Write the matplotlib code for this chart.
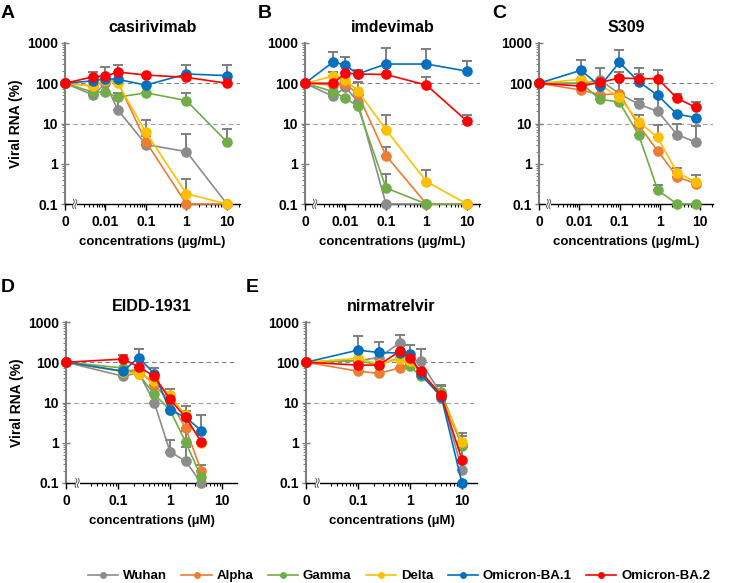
import numpy as np
import matplotlib.pyplot as plt
from matplotlib.ticker import FixedLocator, NullFormatter, LogLocator
from matplotlib.patches import Rectangle

plt.rcParams['font.family'] = ['Liberation Sans', 'DejaVu Sans']
plt.rcParams['font.weight'] = 'bold'
plt.rcParams['axes.titleweight'] = 'bold'
plt.rcParams['axes.labelweight'] = 'bold'

variants = ['Wuhan', 'Alpha', 'Gamma', 'Delta', 'Omicron-BA.1', 'Omicron-BA.2']
colors = ['#8c8c8c', '#ED7D31', '#70AD47', '#FFC000', '#0070C0', '#FF0000']

# ---- A: casirivimab (ug/mL)
conc_A = [0, 0.005, 0.01, 0.02, 0.1, 1, 10]
rna_A = [
    [100, 51, 100, 22, 3.0, 2.0, 0.1],
    [100, 85, 115, 110, 3.5, 0.1, 0.1],
    [100, 60, 60, 45, 58, 37, 3.5],
    [100, 85, 120, 100, 6.0, 0.18, 0.1],
    [100, 115, 130, 125, 90, 170, 155],
    [100, 145, 150, 190, 160, 140, 100],
]
top_A = [
    [None, None, None, 40, None, 5.5, None],
    [None, None, None, None, 5.0, None, None],
    [None, None, None, 57, None, 57, 7.5],
    [None, None, None, None, 12, 0.42, None],
    [None, None, 250, 280, None, 280, 290],
    [None, 185, None, None, None, None, None],
]

# ---- B: imdevimab (ug/mL)
conc_B = [0, 0.005, 0.01, 0.02, 0.1, 1, 10]
rna_B = [
    [100, 47, 80, 35, 0.1, 0.1, 0.1],
    [100, 90, 95, 55, 1.6, 0.1, 0.1],
    [100, 62, 42, 27, 0.25, 0.1, 0.1],
    [100, 150, 120, 65, 7.0, 0.36, 0.1],
    [100, 340, 280, 170, 300, 300, 200],
    [100, 100, 180, 170, 165, 90, 11.5],
]
top_B = [
    [None, None, 110, 105, None, None, None],
    [None, None, None, None, 2.6, None, None],
    [None, None, None, None, 0.55, None, None],
    [None, 185, None, None, 16, 0.7, None],
    [None, 600, 460, 210, 750, 720, 350],
    [None, None, None, None, None, 145, 16],
]

# ---- C: S309 (ug/mL)
conc_C = [0, 0.011, 0.033, 0.099, 0.3, 0.89, 2.7, 8]
rna_C = [
    [100, 100, 120, 55, 30, 20, 5.3, 3.4],
    [100, 68, 52, 55, 9.0, 2.1, 0.47, 0.32],
    [100, 100, 40, 34, 5.2, 0.22, 0.1, 0.1],
    [100, 125, 90, 45, 11, 4.5, 0.6, 0.35],
    [100, 210, 85, 330, 110, 50, 17, 14],
    [100, 85, 105, 135, 130, 130, 42, 25],
]
top_C = [
    [None, None, 240, 150, 40, 45, 10, 8.5],
    [None, None, None, None, None, None, None, None],
    [None, None, None, None, None, 0.3, None, None],
    [None, None, None, None, 16, 9.0, 0.8, 0.52],
    [None, 370, None, 680, 240, 210, None, None],
    [None, None, None, 190, 170, None, 55, 35],
]

# ---- D: EIDD-1931 (uM)
conc_D = [0, 0.125, 0.25, 0.5, 1, 2, 4]
rna_D = [
    [100, 45, 55, 10, 0.6, 0.35, 0.1],
    [100, 60, 65, 27, 11, 2.3, 0.2],
    [100, 72, 50, 16, 6.5, 1.05, 0.14],
    [100, 58, 52, 35, 15, 4.8, 1.0],
    [100, 60, 130, 52, 6.5, 4.3, 2.0],
    [100, 120, 77, 45, 12, 4.3, 1.05],
]
top_D = [
    [None, None, None, None, 1.15, 0.8, None],
    [None, None, None, None, None, 6.0, 0.28],
    [None, None, None, None, None, 2.0, None],
    [None, None, None, None, None, None, None],
    [None, None, 210, 70, None, None, 5.0],
    [None, 150, None, None, 22, 8.0, None],
]

# ---- E: nirmatrelvir (uM)
conc_E = [0, 0.1, 0.25, 0.63, 1, 1.6, 4, 10]
rna_E = [
    [100, 110, 130, 300, 120, 105, 16, 0.21],
    [100, 60, 53, 72, 95, 60, 13, 0.9],
    [100, 110, 85, 130, 80, 45, 18, 0.85],
    [100, 125, 90, 120, 105, 55, 14, 1.05],
    [100, 200, 175, 170, 160, 50, 14, 0.1],
    [100, 85, 85, 185, 125, 60, 15, 0.38],
]
top_E = [
    [None, None, 320, 480, 270, 210, 28, 1.7],
    [None, None, None, None, None, None, 26, None],
    [None, None, None, None, None, None, None, None],
    [None, None, None, None, None, None, None, 1.5],
    [None, 450, None, None, None, None, None, None],
    [None, None, None, None, None, None, None, None],
]

panels = [
    ('A', 'casirivimab', conc_A, rna_A, top_A, 0.001, 21, 'concentrations (\u00b5g/mL)'),
    ('B', 'imdevimab', conc_B, rna_B, top_B, 0.001, 21, 'concentrations (\u00b5g/mL)'),
    ('C', 'S309', conc_C, rna_C, top_C, 0.001, 21, 'concentrations (\u00b5g/mL)'),
    ('D', 'EIDD-1931', conc_D, rna_D, top_D, 0.01, 19.5, 'concentrations (\u00b5M)'),
    ('E', 'nirmatrelvir', conc_E, rna_E, top_E, 0.01, 19.5, 'concentrations (\u00b5M)'),
]

W, H = 738, 583
boxes = [(65, 43, 240, 204), (305, 43, 480, 204), (539, 43, 713, 204),
         (66, 322, 237, 483), (306, 322, 477, 483)]
letter_pos = [(1, 14), (258, 14), (492, 14), (1, 287), (246, 287)]

fig = plt.figure(figsize=(W / 100, H / 100), dpi=100)

for i, (letter, title, conc, rna, tops, x0, xmax, xlab) in enumerate(panels):
    l, t, r, b = boxes[i]
    ax = fig.add_axes([l / W, 1 - b / H, (r - l) / W, (b - t) / H])
    x = np.array([x0 if c == 0 else c for c in conc], dtype=float)

    for k in range(6):
        y = np.array(rna[k], dtype=float)
        up = np.array([0 if v is None else v - y[j] for j, v in enumerate(tops[k])])
        ax.errorbar(x, y, yerr=[np.zeros_like(up), up], fmt='none', ecolor='#7f7f7f',
                    elinewidth=1.4, capsize=3.5, capthick=1.4, zorder=2, clip_on=False)
    for k in range(6):
        ax.plot(x, rna[k], '-o', color=colors[k], lw=1.2, ms=6.6, zorder=3 + k,
                clip_on=False, label=variants[k])

    ax.axhline(100, color='#808080', ls=(0, (4, 3)), lw=0.8, zorder=1)
    ax.axhline(10, color='#a0a0a0', ls=(0, (4, 3)), lw=0.8, zorder=1)

    ax.set_xscale('log')
    ax.set_yscale('log')
    ax.set_xlim(x0, xmax)
    ax.set_ylim(0.1, 1000)

    if x0 == 0.001:
        xt = [0.001, 0.01, 0.1, 1, 10]
        xl = ['0', '0.01', '0.1', '1', '10']
    else:
        xt = [0.01, 0.1, 1, 10]
        xl = ['0', '0.1', '1', '10']
    ax.xaxis.set_major_locator(FixedLocator(xt))
    ax.set_xticklabels(xl)
    minors = [m * 10.0 ** e for e in range(-3, 2) for m in range(2, 10)]
    minors = [v for v in minors if x0 * 2.5 < v < xmax]
    ax.xaxis.set_minor_locator(FixedLocator(minors))
    ax.xaxis.set_minor_formatter(NullFormatter())

    ax.yaxis.set_major_locator(FixedLocator([0.1, 1, 10, 100, 1000]))
    ax.set_yticklabels(['0.1', '1', '10', '100', '1000'])
    ax.yaxis.set_minor_locator(LogLocator(base=10, subs=np.arange(2, 10)))
    ax.yaxis.set_minor_formatter(NullFormatter())

    ax.tick_params(axis='x', which='major', direction='out', length=4, width=1,
                   labelsize=10, pad=4)
    ax.tick_params(axis='x', which='minor', direction='out', length=2.5, width=0.8)
    ax.tick_params(axis='y', which='major', direction='inout', length=6, width=1,
                   color='#7f7f7f', labelsize=10, pad=2)
    ax.tick_params(axis='y', which='minor', direction='out', length=2, width=0.7,
                   color='#7f7f7f')

    for s in ['top', 'right']:
        ax.spines[s].set_visible(False)
    ax.spines['left'].set_color('#7f7f7f')
    ax.spines['left'].set_linewidth(1.5)
    ax.spines['bottom'].set_linewidth(1.0)

    # axis break on the x axis
    xc = 0.055 if x0 == 0.001 else 0.065
    ax.add_patch(Rectangle((xc - 0.012, -0.02), 0.026, 0.04, transform=ax.transAxes,
                           facecolor='white', edgecolor='none', clip_on=False, zorder=20))
    tt = np.linspace(-1, 1, 30)
    for dx in (-0.007, 0.007):
        ax.plot(xc + dx + 0.005 * np.sin(np.pi * tt), 0.028 * tt, color='#555555', lw=0.7,
                transform=ax.transAxes, clip_on=False, zorder=21)

    ax.set_title(title, fontsize=11.5, fontweight='bold', pad=8)
    ax.set_xlabel(xlab, fontsize=9.5, fontweight='bold', labelpad=5)
    if letter in ('A', 'D'):
        ax.set_ylabel('Viral RNA (%)', fontsize=10, fontweight='bold', labelpad=3)

    lx, ly = letter_pos[i]
    fig.text(lx / W, 1 - ly / H, letter, fontsize=14, fontweight='bold', va='center', ha='left')

handles, labels = ax.get_legend_handles_labels()
leg = fig.legend(handles, labels, loc='center', bbox_to_anchor=(399 / W, 1 - 576 / H), ncol=6,
                 frameon=False, fontsize=9.5, handlelength=2.3, handletextpad=0.35,
                 columnspacing=1.1, markerscale=0.6)

fig.savefig('out.png', dpi=100)
